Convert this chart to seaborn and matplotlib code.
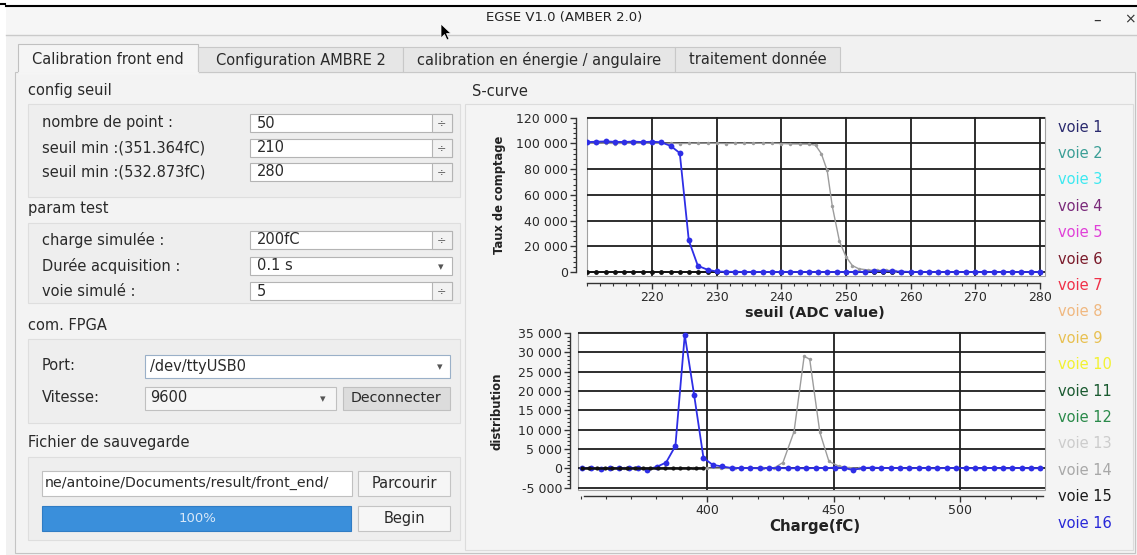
import pandas as pd
import seaborn as sns
import matplotlib.pyplot as plt
from matplotlib.patches import Rectangle, Polygon
from matplotlib.ticker import MultipleLocator, FuncFormatter

# ---------------- data ----------------
# S-curve (seuil in ADC value), 50 points from 210 to 280
seuil = [210.0, 211.4, 212.9, 214.3, 215.7, 217.1, 218.6, 220.0, 221.4, 222.9,
         224.3, 225.7, 227.1, 228.6, 230.0, 231.4, 232.9, 234.3, 235.7, 237.1,
         238.6, 240.0, 241.4, 242.9, 244.3, 245.7, 247.1, 248.6, 250.0, 251.4,
         252.9, 254.3, 255.7, 257.1, 258.6, 260.0, 261.4, 262.9, 264.3, 265.7,
         267.1, 268.6, 270.0, 271.4, 272.9, 274.3, 275.7, 277.1, 278.6, 280.0]
comptage_v16 = [101000, 101300, 101500, 101200, 101100, 101400, 101000, 101300, 100900, 98000,
                92500, 24500, 4800, 1800, 400, 200, 150, 100, 100, 80,
                60, 50, 50, 40, 40, 30, 30, 20, 20, 20,
                200, 600, 700, 500, 300, 100, 50, 30, 20, 20,
                10, 10, 10, 0, 0, 0, 0, 0, 0, 0]
comptage_v15 = [0, 0, 0, 0, 0, 0, 0, 0, 0, 0,
                0, 0, 0, 0, 0, 0, 0, 0, 0, 0,
                0, 0, 0, 0, 0, 0, 0, 0, 0, 0,
                0, 0, 0, 0, 0, 0, 0, 0, 0, 0,
                0, 0, 0, 0, 0, 0, 0, 0, 0, 0]
seuil_v14 = [210.0, 211.4, 212.9, 214.3, 215.7, 217.1, 218.6, 220.0, 221.4, 222.9,
             224.3, 225.7, 227.1, 228.6, 230.0, 231.4, 232.9, 234.3, 235.7, 237.1,
             238.6, 240.0, 241.4, 242.9, 244.3, 245.3, 246.2, 247.1, 247.9, 249.0,
             250.0, 251.0, 252.0, 253.4, 254.8, 256.2, 257.6]
comptage_v14 = [100000, 100200, 100100, 99900, 100000, 100100, 100000, 100200, 100000, 100100,
                99900, 100000, 100200, 100100, 100000, 99900, 100100, 100000, 100200, 100000,
                100100, 99900, 99600, 99500, 99400, 98600, 92000, 79000, 51000, 24000,
                12000, 5000, 2500, 1600, 1200, 1400, 900]

# distribution (charge in fC)
charge = [350.5, 354.2, 357.9, 361.6, 365.3, 369.0, 372.7, 376.4, 380.1, 383.8,
          387.5, 391.2, 394.9, 398.6, 402.3, 406.0, 409.7, 413.4, 417.1, 420.8,
          424.5, 428.2, 431.9, 435.6, 439.3, 443.0, 446.7, 450.4, 454.1, 457.8,
          461.5, 465.2, 468.9, 472.6, 476.3, 480.0, 483.7, 487.4, 491.1, 494.8,
          498.5, 502.2, 505.9, 509.6, 513.3, 517.0, 520.7, 524.4, 528.1, 531.8]
distrib_v16 = [100, 50, -150, 0, 50, 100, 200, -300, 400, 1500,
               5800, 34500, 19000, 2700, 900, 500, 100, 50, 100, 0,
               50, 100, 0, 50, 0, 100, 50, 200, 100, -400,
               100, 200, 100, 50, 100, 0, 100, 50, 0, 100,
               50, 100, 0, 50, 100, 0, 50, 100, 0, 50]
charge_v15 = [350.5, 353.5, 356.5, 359.5, 362.5, 365.5, 368.5, 371.5, 374.5, 377.5,
              380.5, 383.5, 386.5, 389.5, 392.5, 395.5, 398.5]
distrib_v15 = [0, 0, 0, 0, 0, 0, 0, 0, 0, 0,
               0, 0, 0, 0, 0, 0, 0]
charge_v14 = [350.5, 356.0, 361.5, 367.0, 372.5, 378.0, 383.5, 389.0, 394.5, 400.0,
              405.5, 411.0, 416.5, 422.0, 426.5, 430.0, 434.4, 438.4, 440.6, 444.6,
              448.2, 452.0, 456.0, 460.0]
distrib_v14 = [0, 0, 0, 0, 0, 100, 0, 0, 0, 0,
               0, 0, 0, 0, 100, 1500, 9500, 29000, 28200, 9300,
               1800, 600, 200, 0]

seuil_ticks = [220, 230, 240, 250, 260, 270, 280]
charge_ticks = [400, 450, 500]

voies = ["voie %d" % i for i in range(1, 17)]
voie_colors = ["#2a2a6e", "#3a9e96", "#3ce8f0", "#7a2a7a", "#e040d8", "#7a1a2a",
               "#f03048", "#f0b880", "#e8c050", "#f2f230", "#1a5a30", "#2a8a4a",
               "#cccccc", "#a8a8a8", "#1a1a1a", "#2828d8"]

tabs = ["Calibration front end", "Configuration AMBRE 2",
        "calibration en énergie / angulaire", "traitement donnée"]

# ---------------- figure ----------------
W, H = 1137, 555
PT = 0.72  # points per pixel at 100 dpi
fig = plt.figure(figsize=(W / 100, H / 100), dpi=100)
fig.patch.set_facecolor("white")
plt.rcParams["font.family"] = ["DejaVu Sans"]

bg = fig.add_axes([0, 0, 1, 1])
bg.set_xlim(0, W)
bg.set_ylim(H, 0)
bg.axis("off")

GUI = 10.5


def box(x0, y0, x1, y1, fc="white", ec="#b8b8b8", lw=0.8, z=1):
    bg.add_patch(Rectangle((x0, y0), x1 - x0, y1 - y0, fc=fc, ec=ec, lw=lw, zorder=z))


def txt(x, y, s, size=GUI, color="#2a2a2a", **kw):
    bg.text(x, y, s, fontsize=size, color=color, va="center", zorder=5, **kw)


# window background, title bar
box(6, 6, W + 2, H + 2, fc="#f1f1f1", ec="none")
box(6, 6, W + 2, 35, fc="#f6f6f6", ec="none")
bg.plot([6, W], [6, 6], color="black", lw=1.5, zorder=3)
bg.plot([0, 5], [4, 4], color="black", lw=1.5, zorder=3)
bg.plot([6, W], [35, 35], color="#cacaca", lw=1, zorder=3)
txt(564, 18, "EGSE V1.0 (AMBER 2.0)", size=9.5, ha="center", color="#222222")
txt(1097, 20, "–", size=11, ha="center", color="#333")
txt(1124, 19, "×", size=10, ha="left", color="#333")
bg.add_patch(Polygon([(441, 24), (441, 38), (444.5, 34.5), (447, 40), (449, 39),
                      (446.5, 33.5), (451, 33.5)], closed=True, fc="black", ec="white",
                     lw=0.5, zorder=6))

# tabs and panel
box(15, 72, 1135, 553, fc="#f3f3f3", ec="#c4c4c4")
tab_edges = [18, 198, 403, 675, 840]
for i, name in enumerate(tabs):
    x0, x1 = tab_edges[i], tab_edges[i + 1]
    if i == 0:
        box(x0, 44, x1, 73, fc="#f5f5f5", ec="#c0c0c0", z=2)
        bg.plot([x0 + 1, x1 - 1], [73, 73], color="#f5f5f5", lw=2, zorder=3)
    else:
        box(x0, 47, x1, 72, fc="#e6e6e6", ec="#c8c8c8", z=2)
    txt((x0 + x1) / 2, 60, name, ha="center")

# left side: group boxes
groups = [("config seuil", 91, 104, 197), ("param test", 209, 223, 303),
          ("com. FPGA", 325, 339, 423), ("Fichier de sauvegarde", 443, 457, 540)]
for label, ty, y0, y1 in groups:
    txt(28, ty, label)
    box(28, y0, 460, y1, fc="#eeeeee", ec="#dedede")

fields = [("nombre de point :", "50", 123, "spin"),
          ("seuil min :(351.364fC)", "210", 148, "spin"),
          ("seuil min :(532.873fC)", "280", 172, "spin"),
          ("charge simulée :", "200fC", 240, "spin"),
          ("Durée acquisition :", "0.1 s", 266, "combo"),
          ("voie simulé :", "5", 291, "spin")]
for label, value, yc, kind in fields:
    txt(42, yc, label)
    box(250, yc - 9, 452, yc + 9, fc="white", ec="#b4b4b4", z=2)
    txt(257, yc, value)
    if kind == "spin":
        box(432, yc - 9, 452, yc + 9, fc="#f2f2f2", ec="#b4b4b4", z=3)
        txt(442, yc, "÷", size=8, ha="center", color="#555")
    else:
        txt(441, yc + 1, "▾", size=8, ha="center", color="#555")

txt(42, 366, "Port:")
box(145, 355, 450, 378, fc="white", ec="#9ab0c8", z=2)
txt(150, 366, "/dev/ttyUSB0")
txt(440, 367, "▾", size=8, ha="center", color="#555")
txt(42, 398, "Vitesse:")
box(145, 387, 336, 410, fc="#f6f6f6", ec="#c0c0c0", z=2)
txt(150, 398, "9600")
txt(323, 399, "▾", size=8, ha="center", color="#555")
box(343, 387, 450, 410, fc="#dcdcdc", ec="#c0c0c0", z=2)
txt(396, 398, "Deconnecter", ha="center", size=10.2)

box(42, 471, 352, 496, fc="white", ec="#c0c0c0", z=2)
txt(45, 483, "ne/antoine/Documents/result/front_end/", size=10.2)
box(358, 471, 450, 496, fc="#f6f6f6", ec="#c4c4c4", z=2)
txt(404, 483, "Parcourir", ha="center")
box(42, 506, 351, 531, fc="#3a8fdb", ec="#2f7cc4", z=2)
txt(197, 518, "100%", ha="center", color="#d8e8f8", size=9.5)
box(358, 506, 450, 531, fc="#f6f6f6", ec="#c4c4c4", z=2)
txt(404, 518, "Begin", ha="center")

# right side frame and legend
txt(472, 91, "S-curve")
box(465, 104, 1133, 550, fc="#f4f4f4", ec="#dcdcdc")
for i, (name, col) in enumerate(zip(voies, voie_colors)):
    txt(1058, 127 + 26.4 * i, name, color=col)


def make_axes(left, top, right, bottom):
    return fig.add_axes([left / W, 1 - bottom / H, (right - left) / W, (bottom - top) / H])


def space_thousands(v, pos):
    return "{:,}".format(int(round(v))).replace(",", " ")


def style_axes(ax, xticks, xminor, ymajor, yminor, left_gap, bottom_gap, xb, yb):
    ax.set_facecolor("white")
    ax.patch.set_edgecolor("#a0a0a0")
    ax.patch.set_linewidth(0.8)
    for s in ["top", "right"]:
        ax.spines[s].set_visible(False)
    ax.spines["left"].set_position(("outward", left_gap * PT))
    ax.spines["bottom"].set_position(("outward", bottom_gap * PT))
    ax.spines["bottom"].set_bounds(*xb)
    ax.spines["left"].set_bounds(*yb)
    for s in ["left", "bottom"]:
        ax.spines[s].set_color("#333333")
        ax.spines[s].set_linewidth(1)
    ax.set_xticks(xticks)
    ax.xaxis.set_minor_locator(MultipleLocator(xminor))
    ax.yaxis.set_major_locator(MultipleLocator(ymajor))
    ax.yaxis.set_minor_locator(MultipleLocator(yminor))
    ax.yaxis.set_major_formatter(FuncFormatter(space_thousands))
    ax.tick_params(which="major", direction="out", length=6 * PT, width=1, color="#333333",
                   labelsize=9, labelcolor="#2a2a2a", pad=2 * PT)
    ax.tick_params(which="minor", direction="out", length=3 * PT, width=0.8, color="#333333")
    ax.grid(True, which="major", color="#1e1e1e", lw=1.3)
    ax.set_axisbelow(True)
    ax.set_xlabel("")
    ax.set_ylabel("")
    if ax.get_legend() is not None:
        ax.get_legend().remove()


def draw_series(ax, xs, ys, color, msize, lw):
    df = pd.DataFrame({"x": xs, "y": ys})
    sns.lineplot(data=df, x="x", y="y", ax=ax, color=color, marker="o",
                 markersize=msize, markeredgewidth=0, linewidth=lw,
                 estimator=None, sort=False)


# top chart: S-curve
ax1 = make_axes(587, 117, 1045, 276)
draw_series(ax1, seuil, comptage_v15, "#111111", 3.5, 1.2)
draw_series(ax1, seuil_v14, comptage_v14, "#9c9c9c", 2.5, 1.0)
draw_series(ax1, seuil, comptage_v16, "#2e2ee6", 4.2, 1.3)
ax1.set_xlim(209.95, 280.8)
ax1.set_ylim(-3100, 120500)
style_axes(ax1, seuil_ticks, 2, 20000, 4000, 11, 7, (210, 280), (0, 120000))

# bottom chart: distribution
ax2 = make_axes(578, 332, 1045, 490)
draw_series(ax2, charge_v14, distrib_v14, "#9c9c9c", 2.5, 1.0)
draw_series(ax2, charge, distrib_v16, "#2e2ee6", 4.2, 1.3)
draw_series(ax2, charge_v15, distrib_v15, "#111111", 3, 1.8)
ax2.set_xlim(349.0, 533.6)
ax2.set_ylim(-5590, 35260)
style_axes(ax2, charge_ticks, 10, 5000, 1000, 8, 6, (351.4, 532.9), (-5000, 35000))

# axis titles
bg.text(500, 195, "Taux de comptage", rotation=90, ha="center", va="center",
        fontsize=8.3, fontweight="bold", color="#222222")
bg.text(815, 313, "seuil (ADC value)", ha="center", va="center",
        fontsize=10.4, fontweight="bold", color="#222222")
bg.text(497, 411, "distribution", rotation=90, ha="center", va="center",
        fontsize=8.5, fontweight="bold", color="#222222")
bg.text(815, 526, "Charge(fC)", ha="center", va="center",
        fontsize=10.8, fontweight="bold", color="#222222")

plt.savefig("out.png", dpi=100)
